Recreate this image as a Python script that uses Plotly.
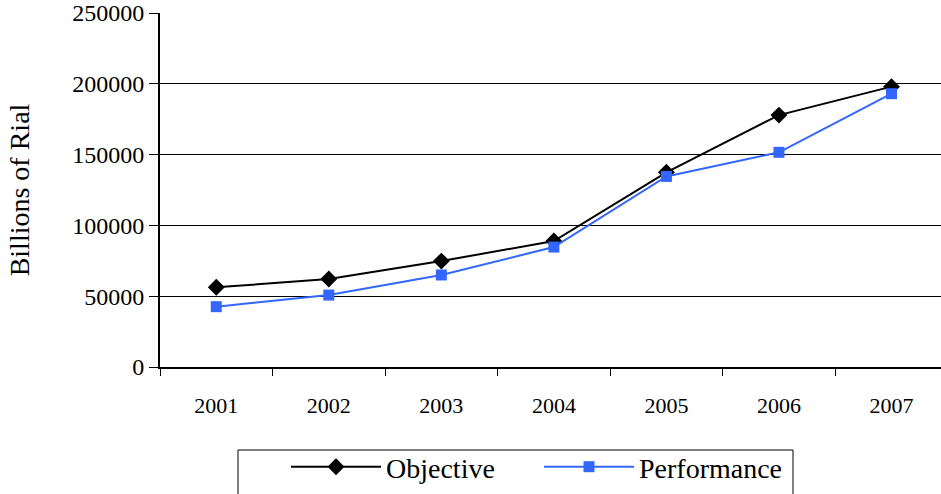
import plotly.graph_objects as go

years = ["2001", "2002", "2003", "2004", "2005", "2006", "2007"]
objective = [56300, 62100, 74800, 89000, 137500, 177900, 198000]
performance = [42600, 50800, 65000, 84700, 134600, 151600, 193000]
y_ticks = [0, 50000, 100000, 150000, 200000, 250000]

FONT = "Times New Roman, Liberation Serif, serif"

fig = go.Figure()
fig.add_trace(go.Scatter(
    x=years, y=objective, name="Objective", mode="lines+markers",
    line=dict(color="#000000", width=2),
    marker=dict(symbol="diamond", size=13, color="#000000"),
))
fig.add_trace(go.Scatter(
    x=years, y=performance, name="Performance", mode="lines+markers",
    line=dict(color="#3366FF", width=2),
    marker=dict(symbol="square", size=11, color="#3366FF"),
))

# legend frame drawn as a paper-space rectangle
fig.add_shape(type="rect", xref="paper", yref="paper",
              x0=(238 - 160) / 781, x1=(793 - 160) / 781,
              y0=-(500 - 367) / 354, y1=-(450 - 367) / 354,
              line=dict(color="black", width=1), fillcolor="rgba(0,0,0,0)")

fig.update_layout(
    width=941, height=494,
    margin=dict(l=160, r=0, t=13, b=127),
    paper_bgcolor="white", plot_bgcolor="white",
    font=dict(family=FONT, size=22, color="black"),
    showlegend=True,
    legend=dict(
        orientation="h", x=(286 - 160) / 781, xanchor="left",
        y=-(492 - 367) / 354, yanchor="bottom",
        borderwidth=0, bgcolor="rgba(0,0,0,0)",
        font=dict(family=FONT, size=28),
        itemwidth=90,
        entrywidth=148, entrywidthmode="pixels",
        traceorder="normal",
    ),
)
fig.update_xaxes(
    type="category", range=[-0.5, 6.44],
    tickson="boundaries", ticks="outside", ticklen=7, tickwidth=1, tickcolor="black",
    showline=True, linecolor="black", linewidth=2,
    showgrid=False, tickfont=dict(family=FONT, size=22),
    ticklabelstandoff=18,
)
fig.update_yaxes(
    range=[0, 250000], tickvals=y_ticks, ticktext=[str(v) for v in y_ticks],
    ticks="outside", ticklen=9, tickwidth=1, tickcolor="black",
    showline=True, linecolor="black", linewidth=2,
    showgrid=True, gridcolor="black", gridwidth=1, zeroline=False,
    tickfont=dict(family=FONT, size=24),
    title=dict(text="Billions of Rial", font=dict(family=FONT, size=28), standoff=34),
    ticklabelstandoff=0,
)

fig.write_html("out.html")
